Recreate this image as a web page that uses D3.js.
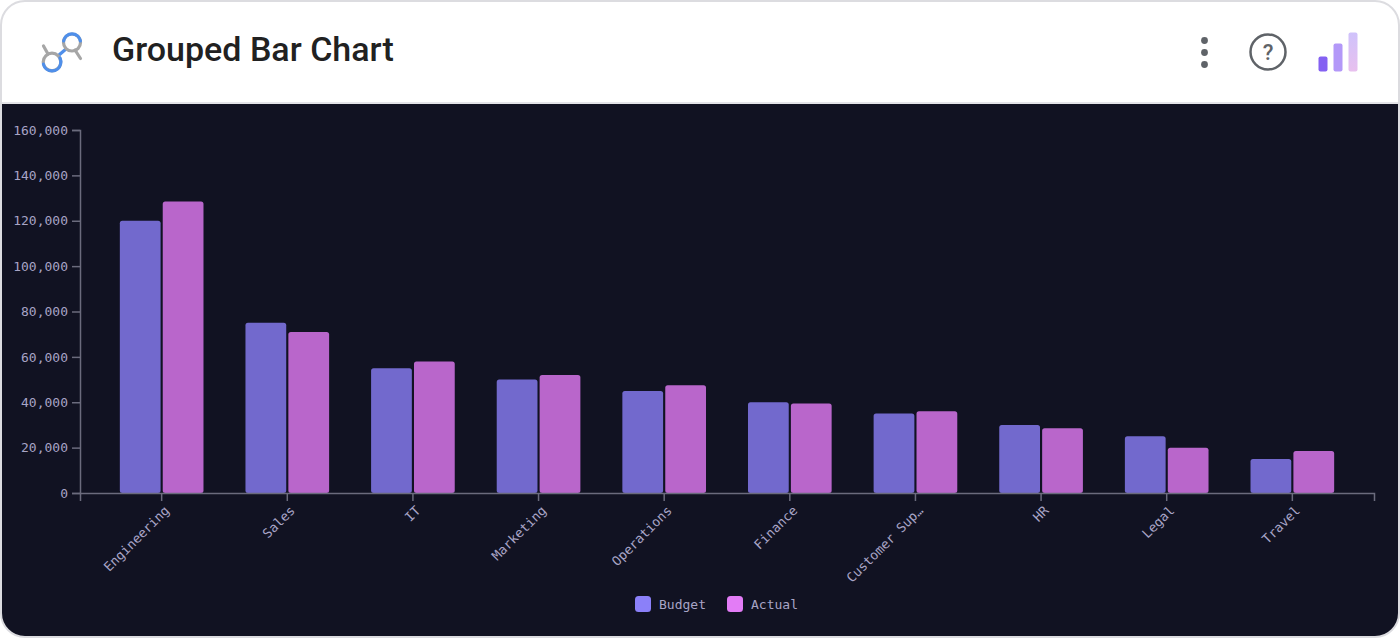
<!DOCTYPE html>
<html>
<head>
<meta charset="utf-8">
<title>Grouped Bar Chart</title>
<script src="https://cdn.jsdelivr.net/npm/d3@7/dist/d3.min.js"></script>
<style>
html,body{margin:0;padding:0;background:#fff;width:1400px;height:638px;overflow:hidden}
text{font-family:"DejaVu Sans Mono",monospace}
</style>
</head>
<body>
<svg id="chart" width="1400" height="638"></svg>
<script>
const categories = ["Engineering","Sales","IT","Marketing","Operations","Finance","Customer Support","HR","Legal","Travel"];
const budget = [120000,75000,55000,50000,45000,40000,35000,30000,25000,15000];
const actual = [128500,71000,58000,52000,47500,39500,36000,28500,20000,18500];
const seriesNames = ["Budget","Actual"];
const seriesColors = ["#8b80f9","#e37cf6"];
const yTicks = [0,20000,40000,60000,80000,100000,120000,140000,160000];
const title = "Grouped Bar Chart";

const svg = d3.select("#chart");

// Card: white header above a dark plot panel, clipped to rounded corners
const defs = svg.append("defs");
defs.append("clipPath").attr("id","card").append("rect")
  .attr("x",1).attr("y",1).attr("width",1398).attr("height",636).attr("rx",24);
const grad = defs.append("linearGradient").attr("id","badge").attr("x1",0).attr("y1",0).attr("x2",0).attr("y2",1);
grad.append("stop").attr("offset","0%").attr("stop-color","#cfc2fb");
grad.append("stop").attr("offset","100%").attr("stop-color","#e8c0ee");

const card = svg.append("g").attr("clip-path","url(#card)");
card.append("rect").attr("width",1400).attr("height",103).attr("fill","#fff");
card.append("rect").attr("y",102).attr("width",1400).attr("height",2).attr("fill","#e4e4e8");
card.append("rect").attr("y",104).attr("width",1400).attr("height",534).attr("fill","#111222");
svg.append("rect").attr("x",1).attr("y",1).attr("width",1398).attr("height",636).attr("rx",24)
  .attr("fill","none").attr("stroke","#dcdce0").attr("stroke-width",2);

// Header: logo, title and toolbar icons
const logo = svg.append("g").attr("fill","none").attr("stroke-linecap","round");
logo.append("path").attr("d","M43.5 46 L48 54 M75 50 L80.5 58.5").attr("stroke","#a6a6a6").attr("stroke-width",3.2);
logo.append("path").attr("d","M59 55 L66 49").attr("stroke","#4f8fea").attr("stroke-width",3.2);
logo.append("circle").attr("cx",72).attr("cy",42.5).attr("r",8.5).attr("stroke","#a6a6a6").attr("stroke-width",3.2);
logo.append("path").attr("d","M63.6 41 A8.5 8.5 0 0 1 80.4 41").attr("stroke","#4f8fea").attr("stroke-width",3.2);
logo.append("circle").attr("cx",52).attr("cy",62).attr("r",8.8).attr("stroke","#a6a6a6").attr("stroke-width",3.2);
logo.append("path").attr("d","M43.4 64 A8.8 8.8 0 0 0 60.6 64 A8.8 8.8 0 0 0 60 58").attr("stroke","#4f8fea").attr("stroke-width",3.2);

svg.append("text").attr("x",112).attr("y",61).text(title)
  .style("font-family","Roboto").style("font-weight",500).style("font-size","34px").attr("fill","#212121");

svg.append("g").selectAll("circle").data([40.5,52.5,64.5]).join("circle")
  .attr("cx",1204.5).attr("cy",d=>d).attr("r",3.4).attr("fill","#5f6368");
svg.append("circle").attr("cx",1268).attr("cy",52).attr("r",17.5).attr("fill","none").attr("stroke","#5f6368").attr("stroke-width",2.5);
svg.append("text").attr("x",1268).attr("y",60).attr("text-anchor","middle").text("?")
  .style("font-family","Roboto").style("font-weight",500).style("font-size","22px").attr("fill","#5f6368");

svg.append("g").selectAll("rect").data([
  {x:1318.5,y:56.5,h:15,f:"#8461f2"},{x:1333.5,y:43.5,h:28,f:"#b398f8"},{x:1348.5,y:32.5,h:39,f:"url(#badge)"}
]).join("rect").attr("x",d=>d.x).attr("y",d=>d.y).attr("width",9).attr("height",d=>d.h).attr("rx",2).attr("fill",d=>d.f);

// Plot scales
const x0 = d3.scaleBand().domain(categories).range([80,1374]).padding(0.3);
const x1 = d3.scaleBand().domain(seriesNames).range([0,x0.bandwidth()]).padding(0.05);
const y = d3.scaleLinear().domain([0,160000]).range([493,130]);

const axisColor = "#6b6b7d", labelColor = "#a8a4c6";

// One group per category, two bars inside each
const rows = categories.map((c,i)=>({c,vals:[budget[i],actual[i]]}));
const groups = svg.append("g").selectAll("g").data(rows).join("g")
  .attr("transform",d=>`translate(${x0(d.c)},0)`);
groups.selectAll("path").data(d=>d.vals.map((v,i)=>({v,name:seriesNames[i],color:seriesColors[i]}))).join("path")
  .attr("d",d=>{
    const bx=x1(d.name), w=x1.bandwidth(), t=y(d.v), b=y(0), r=2.5;
    return `M${bx} ${b-r}Q${bx} ${b} ${bx+r} ${b}H${bx+w-r}Q${bx+w} ${b} ${bx+w} ${b-r}V${t+r}Q${bx+w} ${t} ${bx+w-r} ${t}H${bx+r}Q${bx} ${t} ${bx} ${t+r}Z`;
  })
  .attr("fill",d=>d.color).attr("opacity",0.8);

// Axes
const yAxis = svg.append("g").attr("transform","translate(80,0)")
  .call(d3.axisLeft(y).tickValues(yTicks).tickFormat(d3.format(",")).tickSize(8).tickPadding(4));
const truncate = s => s.length > 12 ? s.slice(0,12) + "…" : s;
const xAxis = svg.append("g").attr("transform","translate(0,493)")
  .call(d3.axisBottom(x0).tickFormat(truncate).tickSize(8).tickSizeOuter(8));
[yAxis,xAxis].forEach(a=>{
  a.selectAll("path,line").attr("stroke",axisColor).attr("stroke-width",1.5);
  a.selectAll("text").attr("fill",labelColor).style("font-size","13px").style("font-family","'DejaVu Sans Mono',monospace");
});
xAxis.selectAll("text")
  .attr("text-anchor","end").attr("dx",-7).attr("dy",11).attr("y",8)
  .attr("transform","rotate(-45)");

// Legend
const legendItems = [{x:635,n:0},{x:727,n:1}];
const legend = svg.append("g").selectAll("g").data(legendItems).join("g")
  .attr("transform",d=>`translate(${d.x},596)`);
legend.append("rect").attr("width",16).attr("height",16).attr("rx",3.5).attr("fill",d=>seriesColors[d.n]);
legend.append("text").attr("x",24).attr("y",12.5).text(d=>seriesNames[d.n])
  .attr("fill",labelColor).style("font-size","13px");
</script>
</body>
</html>
